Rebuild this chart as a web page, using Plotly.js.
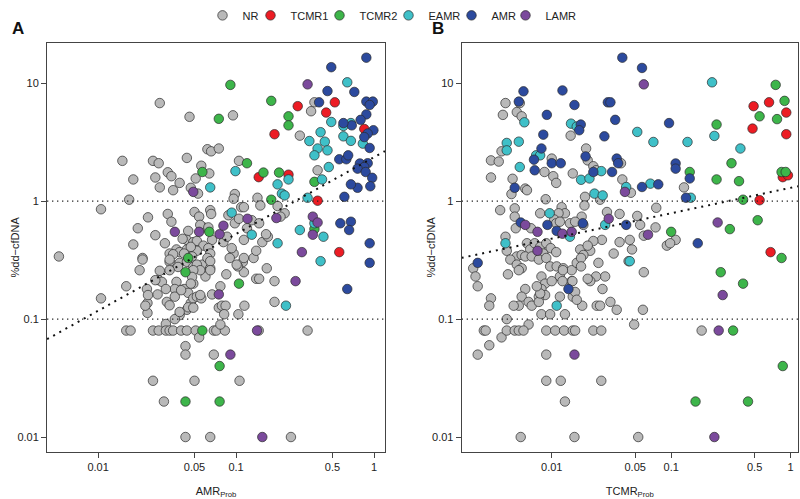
<!DOCTYPE html>
<html>
<head>
<meta charset="utf-8">
<script src="https://cdn.plot.ly/plotly-3.0.1.min.js"></script>
<style>
  html, body { margin: 0; padding: 0; background: #fff; }
  #chart { width: 800px; height: 499px; }
</style>
</head>
<body>
<div id="chart"></div>
<script>
const GROUPS = ["NR", "TCMR1", "TCMR2", "EAMR", "AMR", "LAMR"];

const GROUP_COLORS = {
  NR: "#b9b9b9",
  TCMR1: "#ec1c24",
  TCMR2: "#3db54a",
  EAMR: "#3fc0c8",
  AMR: "#2c4a9e",
  LAMR: "#7b4a9c",
};

// tighter legend entries (px of text slot per entry)
const LEGEND_SLOT = { NR: 3, TCMR1: 24, TCMR2: 24, EAMR: 18, AMR: 9, LAMR: 31 };

// Panel A: AMR probability vs %dd-cfDNA, [x, y] per patient
const amrNR = [
  [0.028,6.8],[0.046,5.2],[0.015,2.2],[0.025,2.2],[0.0275,2.1],[0.044,2.33],[0.062,2.76],[0.066,2.65],[0.075,2.8],[0.056,2.0],
  [0.064,1.72],[0.018,1.53],[0.026,1.59],[0.032,1.76],[0.034,1.63],[0.039,1.43],[0.028,1.31],[0.035,1.24],[0.051,1.56],[0.053,1.16],
  [0.047,1.3],[0.0168,1.03],[0.0105,0.855],[0.0052,0.34],[0.023,0.73],[0.032,0.78],[0.034,0.67],[0.05,0.81],[0.054,0.74],[0.065,0.84],
  [0.066,0.78],[0.0194,0.59],[0.026,0.515],[0.018,0.43],[0.0305,0.44],[0.045,0.56],[0.058,0.6],[0.067,0.47],[0.044,0.47],[0.049,0.45],
  [0.052,0.46],[0.058,0.42],[0.037,0.39],[0.039,0.37],[0.044,0.39],[0.052,0.38],[0.033,0.36],[0.021,0.33],
  [0.033,0.306],[0.035,0.355],[0.042,0.36],[0.039,0.3],[0.044,0.306],[0.049,0.277],[0.02,0.26],[0.021,0.32],[0.028,0.257],[0.057,0.29],
  [0.049,0.2],[0.037,0.207],[0.0275,0.214],[0.029,0.207],[0.016,0.19],[0.0226,0.18],[0.027,0.162],[0.036,0.18],[0.042,0.18],[0.045,0.167],
  [0.0315,0.14],[0.0228,0.137],[0.0228,0.113],[0.033,0.131],[0.047,0.137],[0.049,0.15],[0.052,0.155],[0.056,0.15],[0.044,0.12],[0.039,0.108],
  [0.036,0.1],[0.031,0.091],[0.0105,0.15],
  [0.016,0.08],[0.0172,0.08],[0.025,0.08],[0.0275,0.08],[0.031,0.08],[0.033,0.08],[0.035,0.08],[0.04,0.08],[0.044,0.08],[0.051,0.08],
  [0.069,0.08],[0.072,0.08],[0.083,0.08],[0.054,0.07],[0.077,0.09],[0.146,0.08],[0.33,0.08],
  [0.043,0.059],[0.043,0.05],[0.069,0.05],[0.025,0.03],[0.05,0.03],[0.106,0.03],[0.03,0.02],[0.043,0.01],[0.065,0.01],[0.25,0.01],
  [0.19,0.14],[0.19,0.21],[0.14,0.22],[0.147,0.22],[0.114,0.25],[0.112,0.305],[0.103,0.28],[0.096,0.36],[0.134,0.33],[0.14,0.38],
  [0.085,0.24],[0.065,0.27],[0.06,0.23],[0.067,0.162],[0.077,0.19],[0.075,0.125],[0.079,0.13],[0.084,0.13],[0.115,0.13],[0.104,0.11],
  [0.055,0.16],
  [0.37,6.9],[0.35,5.8],[0.095,5.35],[0.29,3.6],[0.39,1.83],[0.105,2.2],[0.098,1.15],[0.096,1.05],[0.109,0.89],[0.114,0.89],
  [0.143,1.07],[0.2,0.91],[0.225,0.79],[0.21,0.74],[0.13,0.69],[0.147,0.65],[0.098,0.65],[0.088,0.76],[0.114,0.47],[0.155,0.45],
  [0.17,0.5],[0.093,0.4],[0.114,0.33],
  [0.15,0.92],[0.165,0.525],[0.055,0.63],[0.063,0.6],[0.105,0.71],[0.12,0.59],[0.081,0.45],[0.086,0.5],[0.041,0.48],[0.047,0.41],
  [0.048,0.34],[0.063,0.4],[0.065,0.36],[0.062,0.33],[0.052,0.29],[0.065,0.31],[0.065,0.26],[0.055,0.26],[0.049,0.26],[0.048,0.228],
  [0.047,0.2],[0.038,0.277],[0.033,0.32],[0.033,0.26],[0.026,0.214],[0.023,0.16],[0.022,0.13],[0.09,0.33],[0.101,0.29],[0.167,0.27],
  [0.082,0.11],[0.045,0.126],[0.039,0.115],[0.049,0.125],[0.031,0.18],[0.036,0.155],[0.04,0.176],
];
const amrTCMR1 = [
  [0.52,6.9],[0.28,6.4],[0.45,5.65],[0.19,3.7],[0.85,4.1],[0.146,1.6],[0.24,1.68],[0.39,1.01],[0.56,0.37],
];
const amrTCMR2 = [
  [0.075,5.0],[0.057,1.77],[0.064,0.55],[0.045,0.33],[0.043,0.25],[0.057,0.08],[0.076,0.04],[0.043,0.02],[0.076,0.02],[0.105,0.2],
  [0.091,9.7],[0.18,7.1],[0.24,5.25],[0.24,4.4],[0.12,2.1],[0.158,1.75],[0.205,1.75],[0.37,1.46],[0.18,1.03],[0.37,0.58],
];
const amrEAMR = [
  [0.065,1.31],[0.64,10.2],[0.49,4.7],[0.68,4.6],[0.6,4.35],[0.41,3.85],[0.6,3.55],[0.34,3.24],[0.44,3.2],[0.39,2.8],
  [0.46,2.7],[0.37,2.45],[0.68,3.25],[0.83,3.08],[0.47,1.95],[0.42,1.53],[0.33,1.07],[0.099,1.8],[0.24,1.53],[0.2,1.39],
  [0.215,1.16],[0.225,1.12],[0.093,0.8],[0.13,0.52],[0.2,0.44],[0.29,0.57],[0.37,0.65],[0.43,0.5],[0.41,0.31],[0.23,0.13],
];
const amrAMR = [
  [0.88,16.5],[0.49,13.7],[0.46,8.6],[0.72,8.45],[0.4,6.9],[0.88,7.0],[0.98,7.0],[0.93,6.55],[0.88,5.45],[0.8,4.9],
  [0.69,4.4],[0.6,4.6],[0.99,4.0],[0.9,3.75],[0.85,3.5],[0.93,2.83],[0.56,2.27],[0.63,2.27],[0.65,2.45],[0.79,2.09],
  [0.9,2.1],[0.85,1.95],[0.76,1.89],[0.87,1.77],[0.97,1.58],[0.94,1.34],[0.76,1.3],[0.68,1.39],[0.61,1.09],[0.57,0.65],
  [0.68,0.67],[0.66,0.57],[0.93,0.44],[0.93,0.3],[0.64,0.18],
];
const amrLAMR = [
  [0.049,1.2],[0.036,0.55],[0.054,0.55],[0.076,0.525],[0.075,0.162],[0.3,0.37],[0.27,0.21],[0.142,0.08],[0.091,0.05],[0.155,0.01],
  [0.33,9.8],[0.196,0.72],[0.121,0.71],[0.081,0.62],[0.36,0.74],[0.39,0.66],[0.36,0.52],
];

// Panel B: TCMR probability vs %dd-cfDNA
const tcmrNR = [
  [0.0041,6.8],[0.0054,6.8],[0.0039,5.4],[0.0051,5.7],[0.0056,5.25],[0.0144,3.6],[0.0038,2.65],[0.0194,2.8],[0.02,2.22],[0.0223,1.98],
  [0.0235,1.83],[0.0031,2.22],[0.0036,2.17],[0.01,2.3],[0.0087,1.77],[0.0031,1.59],[0.0047,1.55],[0.0103,1.63],[0.0109,1.43],[0.015,1.72],
  [0.006,1.28],[0.0062,1.24],[0.0046,1.15],[0.0089,1.04],[0.019,1.09],[0.0188,0.92],[0.0254,1.03],[0.0037,0.84],[0.0049,0.87],[0.0049,0.74],
  [0.005,0.59],[0.0067,0.59],[0.008,0.79],[0.0121,0.89],[0.0129,0.79],[0.0114,0.79],[0.0105,0.7],[0.0109,0.65],[0.0142,0.65],[0.0178,0.74],
  [0.0184,0.63],[0.029,0.81],[0.0263,0.47],[0.0223,0.46],[0.021,0.38],[0.0041,0.5],[0.0042,0.38],[0.0062,0.44],[0.0066,0.39],[0.0072,0.44],
  [0.008,0.41],[0.009,0.44],[0.0098,0.4],[0.0109,0.37],[0.0085,0.36],[0.0051,0.34],[0.0173,0.39],[0.0184,0.35],
  [0.0022,0.27],[0.0023,0.23],[0.0024,0.19],[0.0045,0.32],[0.0056,0.35],[0.006,0.34],[0.0051,0.29],[0.0056,0.27],[0.0043,0.24],[0.0053,0.26],
  [0.0068,0.34],[0.0078,0.32],[0.009,0.33],[0.0097,0.28],[0.011,0.28],[0.0125,0.27],[0.0147,0.26],[0.0162,0.3],[0.0082,0.23],[0.0088,0.2],
  [0.0082,0.18],[0.0088,0.16],[0.0078,0.155],[0.006,0.18],[0.0056,0.155],[0.0053,0.13],[0.0048,0.13],[0.0064,0.14],[0.0068,0.13],[0.0031,0.15],
  [0.003,0.13],[0.0117,0.67],[0.0157,0.67],[0.0117,0.23],[0.0147,0.21],[0.015,0.155],[0.0117,0.155],[0.0082,0.11],[0.0097,0.11],[0.0129,0.11],
  [0.0042,0.1],[0.0064,0.09],
  [0.0078,0.14],[0.008,0.165],[0.0075,0.19],[0.01,0.21],[0.0124,0.26],[0.0149,0.21],[0.0123,0.21],[0.0157,0.17],[0.018,0.13],[0.0162,0.146],
  [0.0176,0.33],[0.0176,0.28],[0.0246,0.3],[0.028,0.23],[0.0235,0.23],[0.021,0.21],[0.0266,0.18],[0.031,0.14],[0.0238,0.13],[0.0254,0.13],
  [0.0038,0.07],
  [0.0027,0.08],[0.0028,0.08],[0.0042,0.08],[0.0049,0.08],[0.0053,0.08],[0.0058,0.08],[0.009,0.08],[0.0107,0.08],[0.0127,0.08],[0.015,0.08],
  [0.0157,0.08],[0.0223,0.08],[0.026,0.08],
  [0.003,0.06],[0.0024,0.05],[0.009,0.05],[0.009,0.03],[0.0119,0.03],[0.026,0.03],[0.0129,0.02],[0.0055,0.01],[0.0155,0.01],
  [0.038,2.1],[0.039,1.53],[0.046,1.18],[0.037,0.78],[0.052,0.75],[0.055,0.63],[0.075,0.88],[0.074,0.6],[0.059,0.51],[0.045,0.47],
  [0.047,0.39],[0.037,0.45],[0.033,0.36],[0.02,0.42],[0.109,0.47],[0.092,0.42],[0.02,0.22],[0.044,0.31],[0.059,0.25],[0.035,0.12],
  [0.058,0.12],[0.049,0.09],[0.053,0.01],[0.18,0.08],[0.128,1.31],[0.098,0.44],
];
const tcmrTCMR1 = [
  [0.68,0.37],[0.66,6.9],[0.49,6.4],[0.92,5.65],[0.48,4.13],[0.92,3.7],[0.86,1.6],[0.95,1.66],[0.55,1.02],
];
const tcmrTCMR2 = [
  [0.84,0.33],[0.26,0.25],[0.4,0.2],[0.33,0.08],[0.86,0.04],[0.16,0.02],[0.44,0.02],[0.24,4.47],[0.75,9.7],[0.89,7.1],
  [0.55,5.25],[0.77,4.97],[0.143,1.77],[0.32,2.1],[0.24,1.53],[0.37,1.48],[0.84,1.77],[0.91,1.77],[0.4,1.03],[0.53,0.69],
  [0.31,0.58],[0.1,0.55],
];
const tcmrEAMR = [
  [0.0059,4.67],[0.0145,4.55],[0.0162,4.3],[0.0042,3.12],[0.0042,2.7],[0.0053,3.2],[0.0074,2.45],[0.008,2.45],[0.0054,1.95],[0.0176,1.52],
  [0.0207,1.56],[0.026,1.8],[0.0228,1.16],[0.0267,1.12],[0.0096,0.79],[0.0142,0.5],[0.028,0.63],[0.0041,0.44],[0.011,0.13],[0.042,1.32],
  [0.067,1.41],[0.045,0.31],[0.22,10.2],[0.052,3.87],[0.071,3.18],[0.137,3.18],[0.23,3.58],[0.38,2.8],[0.146,1.07],
];
const tcmrAMR = [
  [0.0058,8.55],[0.0123,8.7],[0.0155,6.55],[0.0295,6.9],[0.031,6.9],[0.0053,7.0],[0.0091,5.4],[0.0175,4.47],[0.017,4.0],[0.0085,3.67],
  [0.0276,3.55],[0.0082,2.8],[0.0071,2.25],[0.0192,2.4],[0.01,2.1],[0.0119,2.1],[0.0072,1.83],[0.0223,1.77],[0.0049,1.3],[0.0055,0.66],
  [0.0092,0.63],[0.011,0.56],[0.0182,0.65],[0.0024,0.3],[0.0138,0.18],[0.032,1.77],[0.035,2.3],[0.036,2.1],[0.057,1.32],[0.078,1.39],
  [0.109,2.09],[0.109,1.89],[0.042,0.63],[0.039,16.5],[0.057,13.5],[0.034,4.9],[0.096,4.6],[0.143,1.56],[0.133,1.07],[0.167,0.44],
];
const tcmrLAMR = [
  [0.006,0.63],[0.0076,0.55],[0.0123,0.53],[0.0147,0.55],[0.03,0.71],[0.0076,0.38],[0.0155,0.05],[0.041,1.2],[0.064,0.52],[0.27,0.16],
  [0.25,0.08],[0.23,0.01],[0.059,9.8],[0.245,0.66],
];

// reference cut-offs and fitted trend (log-log) endpoints
const CUTOFFS = [1, 0.1];
const fitA_x = [0.00427, 1.2];
const fitA_y = [0.0676, 2.66];
const fitB_x = [0.00176, 1.153];
const fitB_y = [0.331, 1.34];

const X_TICKS = [0.01, 0.05, 0.1, 0.5, 1];
const Y_TICKS = [0.01, 0.1, 1, 10];

const RANGE_A_X = [-2.37, 0.08];
const RANGE_B_X = [-2.754, 0.062];
const RANGE_Y = [-2.127, 1.342];

const panelA = { NR: amrNR, TCMR1: amrTCMR1, TCMR2: amrTCMR2, EAMR: amrEAMR, AMR: amrAMR, LAMR: amrLAMR };
const panelB = { NR: tcmrNR, TCMR1: tcmrTCMR1, TCMR2: tcmrTCMR2, EAMR: tcmrEAMR, AMR: tcmrAMR, LAMR: tcmrLAMR };

function refLines(xa, ya, xRange, fx, fy) {
  const xs = [Math.pow(10, xRange[0]), Math.pow(10, xRange[1])];
  const out = CUTOFFS.map((c) => ({
    x: xs, y: [c, c], xaxis: xa, yaxis: ya,
    mode: "lines", type: "scatter", hoverinfo: "skip", showlegend: false,
    line: { color: "#222", width: 1.3, dash: "1.3px,3.7px" },
  }));
  out.push({
    x: fx, y: fy, xaxis: xa, yaxis: ya,
    mode: "lines", type: "scatter", hoverinfo: "skip", showlegend: false,
    line: { color: "#111", width: 2, dash: "2px,5px" },
  });
  return out;
}

function pointTraces(panel, xa, ya, legend) {
  return GROUPS.map((g) => ({
    x: panel[g].map((p) => p[0]),
    y: panel[g].map((p) => p[1]),
    xaxis: xa, yaxis: ya,
    name: g, legendgroup: g, showlegend: legend, legendwidth: LEGEND_SLOT[g],
    type: "scatter", mode: "markers",
    marker: { color: GROUP_COLORS[g], size: 9.5, line: { color: "#2b2b2b", width: 0.7 } },
    hovertemplate: g + ": %{x}, %{y}<extra></extra>",
  }));
}

const traces = [
  ...pointTraces(panelA, "x", "y", true),
  ...refLines("x", "y", RANGE_A_X, fitA_x, fitA_y),
  ...pointTraces(panelB, "x2", "y2", false),
  ...refLines("x2", "y2", RANGE_B_X, fitB_x, fitB_y),
];

const axisStyle = {
  type: "log",
  showgrid: false, zeroline: false,
  showline: true, mirror: true, linecolor: "#444", linewidth: 1,
  ticks: "outside", ticklen: 5, tickcolor: "#444", tickwidth: 1,
  tickfont: { size: 11, color: "#222" },
};

const xTickText = X_TICKS.map(String);
const yTickText = Y_TICKS.map(String);

const Y_TITLE = "%dd\u2212cfDNA";

// plot area spans 43px..452px vertically; legend sits in the top margin
const layout = {
  width: 800, height: 499,
  margin: { l: 0, r: 0, t: 43, b: 47 },
  paper_bgcolor: "white", plot_bgcolor: "white",
  font: { family: "Liberation Sans, Arial, sans-serif", size: 11, color: "#222" },
  showlegend: true,
  legend: {
    orientation: "h", x: 0.49, xanchor: "center", y: 1.103, yanchor: "top",
    font: { size: 11 }, itemwidth: 30, tracegroupgap: 0, bgcolor: "rgba(0,0,0,0)",
  },
  xaxis: {
    ...axisStyle, domain: [0.0588, 0.4813], anchor: "y", range: RANGE_A_X,
    tickvals: X_TICKS, ticktext: xTickText,
    title: { text: "AMR<sub>Prob</sub>", standoff: 15, font: { size: 11 } },
  },
  yaxis: {
    ...axisStyle, domain: [0, 1], anchor: "x", range: RANGE_Y,
    tickvals: Y_TICKS, ticktext: yTickText,
  },
  xaxis2: {
    ...axisStyle, domain: [0.5771, 0.9975], anchor: "y2", range: RANGE_B_X,
    tickvals: X_TICKS, ticktext: xTickText,
    title: { text: "TCMR<sub>Prob</sub>", standoff: 15, font: { size: 11 } },
  },
  yaxis2: {
    ...axisStyle, domain: [0, 1], anchor: "x2", range: RANGE_Y,
    tickvals: Y_TICKS, ticktext: yTickText,
  },
  annotations: [
    { text: "<b>A</b>", xref: "paper", yref: "paper", x: 0.023, y: 1.035, xanchor: "center", yanchor: "middle", showarrow: false, font: { size: 17, color: "#111" } },
    { text: "<b>B</b>", xref: "paper", yref: "paper", x: 0.547, y: 1.035, xanchor: "center", yanchor: "middle", showarrow: false, font: { size: 17, color: "#111" } },
    { text: Y_TITLE, xref: "paper", yref: "paper", x: 0.0175, y: 0.5, xanchor: "center", yanchor: "middle", textangle: -90, showarrow: false, font: { size: 11, color: "#222" } },
    { text: Y_TITLE, xref: "paper", yref: "paper", x: 0.5375, y: 0.5, xanchor: "center", yanchor: "middle", textangle: -90, showarrow: false, font: { size: 11, color: "#222" } },
  ],
};

Plotly.newPlot("chart", traces, layout, { displayModeBar: false, responsive: false });
</script>
</body>
</html>
